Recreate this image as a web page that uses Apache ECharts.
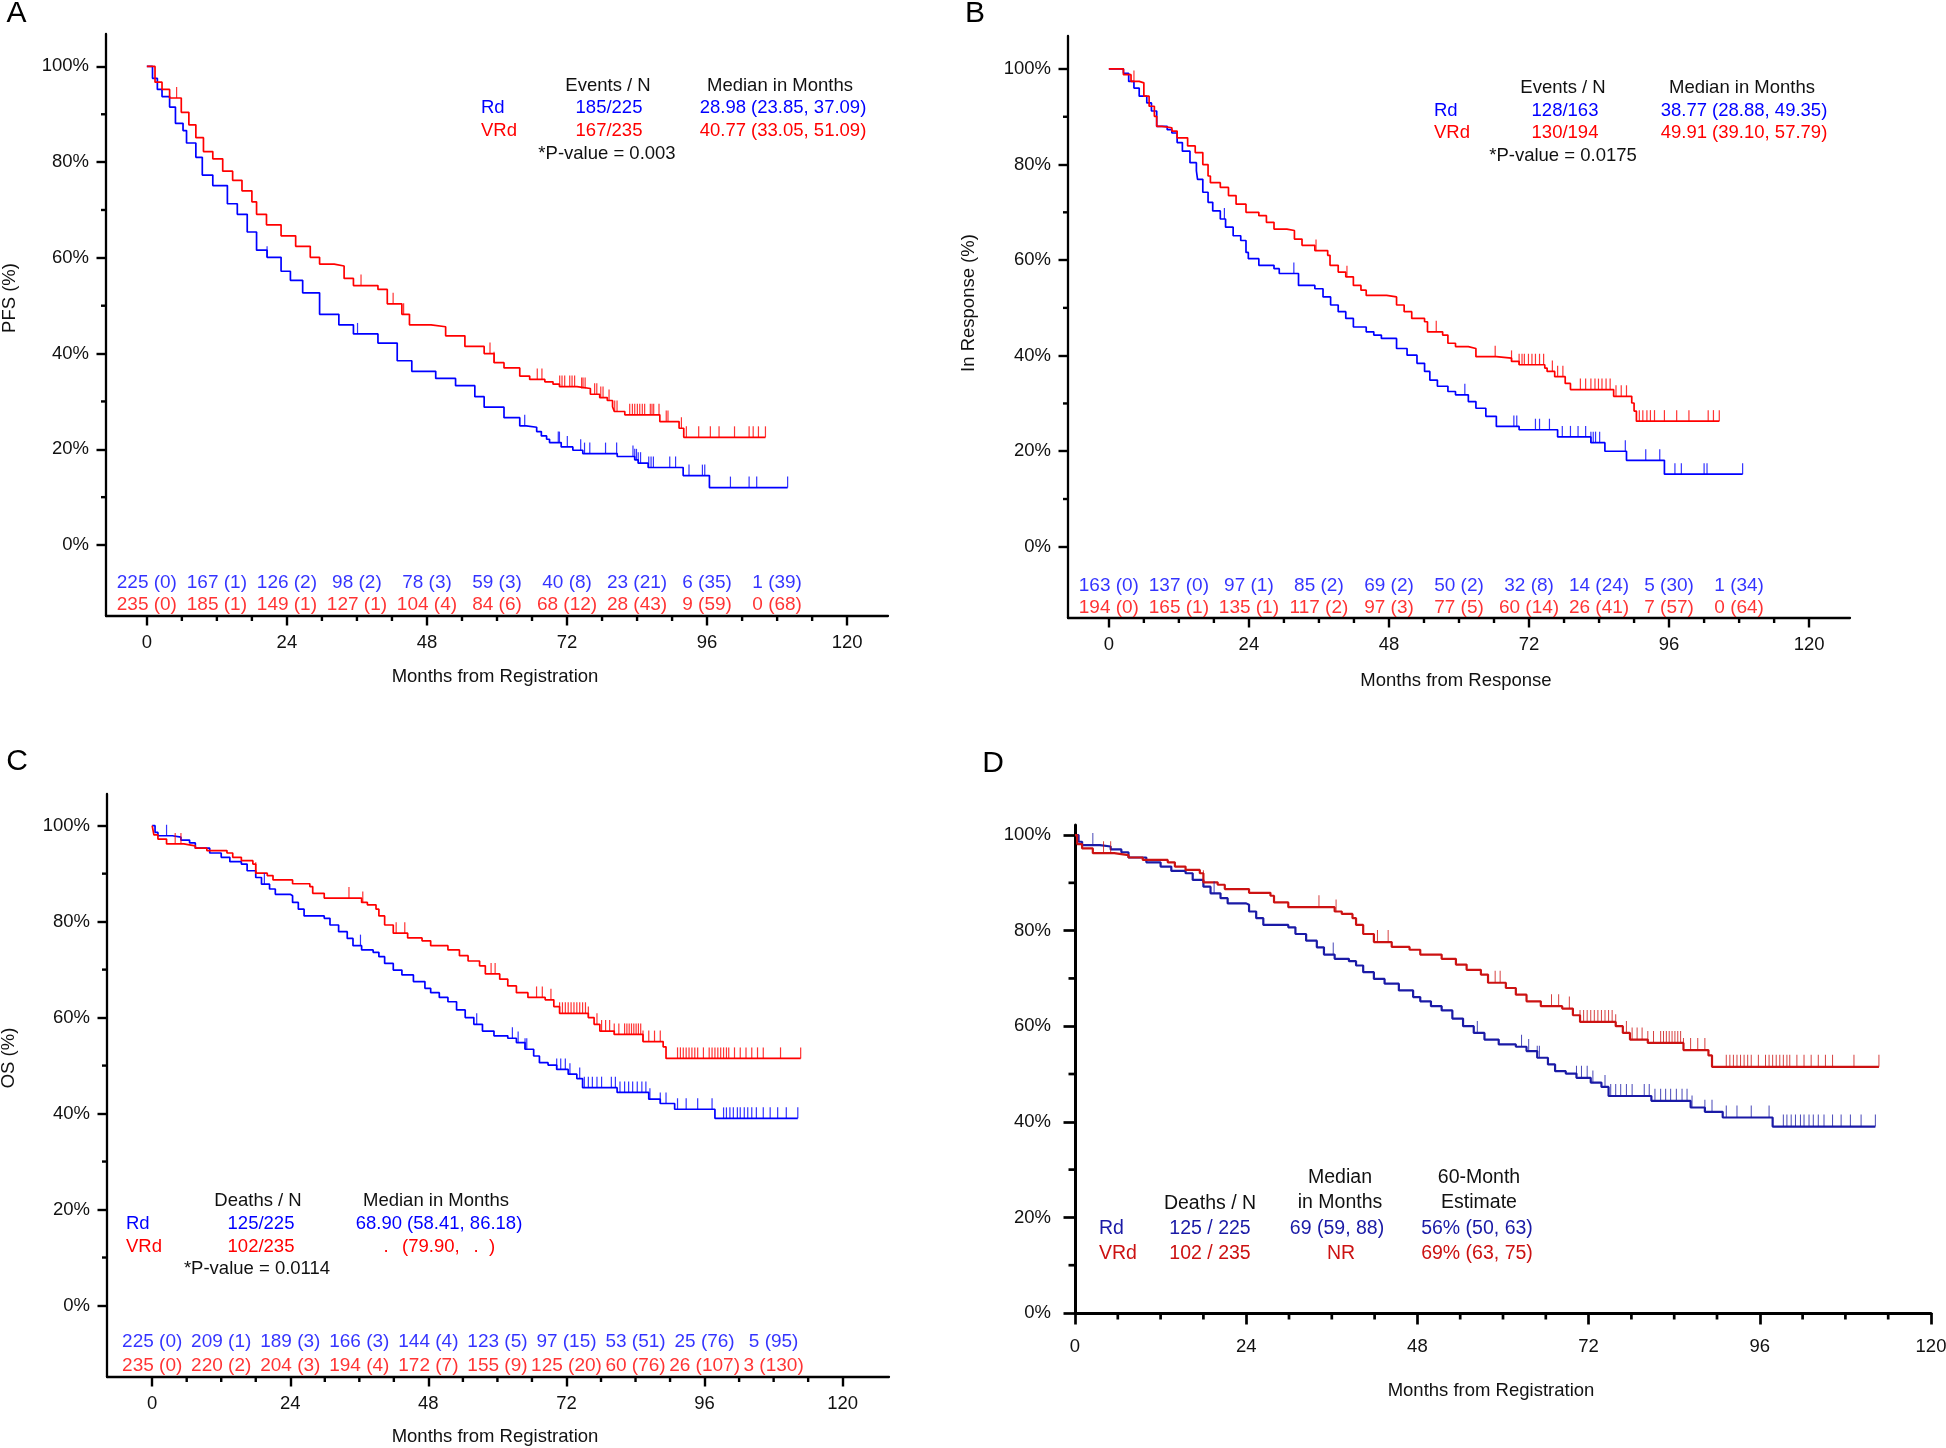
<!DOCTYPE html>
<html><head><meta charset="utf-8">
<script src="https://cdn.jsdelivr.net/npm/echarts@6/dist/echarts.min.js"></script>
<style>html,body{margin:0;padding:0;background:#fff}#c{width:1946px;height:1448px}</style>
</head><body><div id="c"></div>
<script>
// ---------------- DATA ----------------
const riskMonths = [0, 12, 24, 36, 48, 60, 72, 84, 96, 108];
const xTickLabels = [0, 24, 48, 72, 96, 120];
const yTickLabels = [0, 20, 40, 60, 80, 100];

// Panel A: PFS, months from registration  [month, survival %]
const pfsRd = [[0,100],[0.97,97.5],[1.8,95.2],[2.6,93.7],[3.9,91.5],[4.9,88.1],[6.2,86.6],[6.8,84.0],[8.4,81.0],[9.5,77.3],[11.3,75.1],[13.8,71.3],[15.5,69.1],[17.2,65.4],[18.8,61.6],[20.6,60.1],[23.0,57.2],[24.6,55.3],[26.7,52.7],[29.6,48.2],[32.9,46.0],[35.4,44.1],[39.6,42.2],[42.9,38.5],[45.4,36.3],[49.5,34.8],[52.9,33.3],[56.2,31.0],[57.8,28.8],[61.2,26.6],[63.9,24.9],[65.0,24.6],[66.8,23.7],[67.6,22.8],[68.5,22.1],[69.0,21.4],[71.0,20.5],[73.0,19.8],[74.7,19.1],[80.6,18.5],[83.6,17.8],[84.2,17.1],[85.9,16.2],[91.9,14.5],[96.4,12.0],[109.8,12.0]];
const pfsRdCensor = [20.6,36.1,64.75,70.5,70.7,72.05,74.34,75.0,75.9,78.6,80.5,83.3,83.6,83.9,84.2,84.6,86.0,86.4,86.8,89.6,90.6,92.9,95.2,95.6,100.0,103.2,104.5,109.8];
const pfsVRd = [[0,100],[1.4,96.7],[2.6,95.2],[3.9,93.4],[5.9,90.4],[7.2,87.8],[8.4,85.1],[9.7,82.2],[11.3,80.7],[13.0,78.1],[14.7,76.2],[16.3,74.0],[18.0,71.7],[18.8,69.1],[20.5,66.9],[23.0,64.6],[25.5,62.4],[28.0,60.1],[29.6,58.7],[32.1,58.3],[33.8,55.7],[35.4,54.2],[39.6,53.4],[41.2,50.4],[43.7,48.2],[45.0,46.0],[48.7,45.6],[51.2,43.7],[54.5,41.5],[57.8,40.0],[59.5,38.1],[61.2,37.0],[63.9,35.3],[65.6,34.6],[68.2,34.1],[69.6,33.6],[70.7,33.1],[73.7,32.7],[76.0,31.5],[77.6,30.8],[78.9,30.2],[79.8,28.9],[80.1,27.9],[81.9,27.2],[87.9,25.8],[91.2,24.4],[92.0,22.5],[106.0,22.5]];
const pfsVRdCensor = [5.1,36.7,42.2,44.0,58.8,59.5,66.9,67.7,70.74,71.14,71.6,72.46,72.86,73.3,74.5,74.74,75.1,76.73,77.1,77.78,78.17,79.2,80.17,80.57,82.74,83.2,83.6,84.05,84.46,84.9,85.3,86.27,86.56,86.85,87.76,89.0,89.3,91.6,92.45,94.56,96.56,98.05,100.7,103.2,103.9,104.8,106.0];
const pfsRiskRd = ['225 (0)','167 (1)','126 (2)','98 (2)','78 (3)','59 (3)','40 (8)','23 (21)','6 (35)','1 (39)'];
const pfsRiskVRd = ['235 (0)','185 (1)','149 (1)','127 (1)','104 (4)','84 (6)','68 (12)','28 (43)','9 (59)','0 (68)'];

// Panel B: duration of response
const durRd = [[0,100],[2.5,99.1],[3.4,97.4],[4.3,96],[5.2,94.3],[6.5,92.9],[7.3,91.2],[8.2,88],[10,87.3],[10.8,86.6],[11.7,84.6],[12.6,82.8],[13.9,80.4],[15,78.7],[15.2,76.9],[16.1,74.2],[17,72.1],[17.8,70.3],[19.1,68.6],[20,66.9],[21.3,65.1],[22.6,64.1],[23.5,61.6],[23.9,60.3],[25.7,58.9],[28.3,58.2],[29.2,57.2],[32.5,54.7],[35.3,54],[36.7,52.3],[38,50.6],[39.3,49.2],[40.6,47.8],[41.9,46],[44.1,45],[45.4,44.3],[46.7,43.6],[49.3,41.5],[51.1,40.1],[52.8,38.4],[54.1,36.7],[55,34.9],[56.3,33.6],[58.1,32.5],[59.4,31.8],[61.6,30.4],[62.9,29],[64.6,27.3],[66.4,25.2],[70.3,24.5],[76.9,23],[82.6,21.8],[85,20],[88.7,18.1],[95.2,15.2],[108.6,15.2]];
const durRdCensor = [19.8,31.7,61.0,69.4,69.9,73.1,73.8,75.5,77.7,79.1,80.4,81.7,82.6,83.0,83.4,84.1,88.5,92.0,94.4,97.0,98.1,102.0,102.5,108.6];
const durVRd = [[0,100],[2.5,98.8],[3.8,97.4],[5.2,97.1],[6,94.3],[6.9,92.2],[7.8,90.1],[8.2,88],[9.1,87.7],[10.8,87],[11.7,85.6],[13.5,83.9],[14.8,82.5],[16.1,80],[17,77.6],[17.4,76.2],[19.1,75.2],[20.5,73.5],[21.8,71.7],[23.5,70],[25.7,69.3],[27,67.9],[28.3,66.5],[30.5,66.2],[31.8,64.4],[33.1,63.1],[35.3,62],[37.5,61],[37.9,58.9],[39.3,57.5],[40.6,56.5],[41.9,54.7],[43.2,53.7],[44.1,52.6],[47.6,52.3],[49.3,50.6],[50.6,49.2],[51.9,47.8],[54.1,47.1],[54.6,45],[57.2,44.3],[58.1,42.6],[59.4,41.9],[61.6,41.5],[62.9,39.8],[66.4,39.5],[69,38.8],[70.3,38.1],[74.7,37.4],[75.1,36.7],[76.4,35.6],[78.2,34.2],[79.1,32.9],[86.5,31.5],[89.6,30.1],[90,28.4],[90.4,26.3],[104.6,26.3]];
const durVRdCensor = [4.3,35.5,40.8,56.1,66.2,69.0,70.3,70.8,71.2,71.9,72.5,73.1,73.8,74.5,76.0,76.9,77.8,80.8,81.7,82.6,83.3,83.9,84.5,85.2,85.9,86.9,87.8,88.7,90.9,91.5,92.2,92.8,93.5,95.2,97.3,99.4,102.7,103.6,104.6];
const durRiskRd = ['163 (0)','137 (0)','97 (1)','85 (2)','69 (2)','50 (2)','32 (8)','14 (24)','5 (30)','1 (34)'];
const durRiskVRd = ['194 (0)','165 (1)','135 (1)','117 (2)','97 (3)','77 (5)','60 (14)','26 (41)','7 (57)','0 (64)'];

// Panels C and D: overall survival
const osRd = [[0,100],[0.5,98.6],[1,97.9],[3.5,97.6],[5,97],[6.5,96.4],[7.5,95.3],[10,94.3],[12,93.4],[13.5,92.5],[15.5,92],[16.5,90.6],[18,89.2],[19,87.8],[20.4,86.8],[21.4,85.7],[24,85.4],[24.4,84],[25.4,82.6],[26.4,81.2],[29.9,80.7],[30.9,79.3],[32.4,77.9],[33.9,76.5],[34.9,75],[36.4,74.1],[38.4,73.6],[39.4,72.7],[40.4,71.3],[41.9,69.9],[43.4,68.9],[45.4,67.5],[47.4,66.1],[48.4,65.2],[49.9,64.2],[51.4,63.3],[52.9,61.6],[54.4,60],[55.9,58.6],[57.4,57.2],[59.4,56.2],[61.8,55.7],[63.3,54.8],[64.8,53.4],[66.3,52],[67.3,50.6],[68.8,50.1],[70.3,49.2],[72.3,48.2],[73.8,47.3],[74.8,45.4],[80.8,44.4],[86.3,43],[88.3,42.1],[90.8,40.9],[97.8,39.0],[112.2,39.0]];
const osRdCensor = [2.5,19.5,36.2,56.4,62.6,63.6,64.8,65.1,70.3,71.0,71.8,72.6,74.3,75.1,75.8,76.5,77.3,78.1,79.8,80.5,81.3,82.1,82.8,83.5,84.3,85.1,85.8,86.5,88.3,89.3,91.3,92.8,94.8,97.3,99.3,99.8,100.4,101.0,101.7,102.2,102.9,103.5,104.2,105.0,106.2,107.4,108.7,110.2,112.2];
const osVRd = [[0,100],[0.3,98.1],[1,97.2],[2.5,96.2],[5.5,95.8],[7.5,95.3],[9.5,94.8],[13,94.3],[14,93.4],[15.5,92.7],[17.5,92],[18,90.1],[20,89.6],[21,88.7],[24.4,87.9],[27.4,87.3],[27.9,85.9],[29.9,84.9],[36.4,84],[37.4,83.5],[38.9,82.6],[39.4,81.2],[40.4,79.3],[41.9,77.6],[44.4,76.6],[46.9,76],[48.4,75],[51.4,74.1],[53.4,72.9],[54.9,71.8],[56.9,70.8],[57.9,69.1],[60.4,68],[61.8,66.6],[63.3,65.2],[65.3,64.2],[68.3,63.7],[69.8,62.3],[70.8,60.9],[75.8,60],[76.8,58.6],[77.8,57.2],[80.3,56.5],[85.3,55],[88.8,53.9],[89.3,51.5],[112.7,51.5]];
const osVRdCensor = [4.0,5.0,18.0,34.2,36.6,42.4,43.9,58.9,59.6,66.8,67.8,69.3,70.8,71.3,71.8,72.3,72.8,73.3,73.8,74.3,74.8,75.3,75.8,77.3,78.1,78.8,79.5,80.3,81.1,82.1,82.5,82.9,83.3,83.7,84.1,84.5,84.9,85.3,86.3,87.3,88.3,91.3,91.8,92.3,92.8,93.3,93.8,94.3,94.8,95.8,96.8,97.3,97.8,98.3,98.8,99.3,99.8,100.2,101.2,102.2,103.2,104.2,105.2,106.2,109.2,112.7];
const osRiskRd = ['225 (0)','209 (1)','189 (3)','166 (3)','144 (4)','123 (5)','97 (15)','53 (51)','25 (76)','5 (95)'];
const osRiskVRd = ['235 (0)','220 (2)','204 (3)','194 (4)','172 (7)','155 (9)','125 (20)','60 (76)','26 (107)','3 (130)'];

// ---------------- BUILD ----------------
const FONT = '"Liberation Sans", Arial, Helvetica, sans-serif';
const BLUE = '#0000ff', RED = '#ff0000', DBLUE = '#1a1aa6', DRED = '#cc1212', INK = '#111';

function stepAt(curve, t) {
  let v = curve[0][1];
  for (const p of curve) { if (p[0] <= t + 1e-9) v = p[1]; else break; }
  return v;
}
const range = (a, b, s) => { const r = []; for (let v = a; v <= b + 1e-9; v += s) r.push(v); return r; };
const xMinor = range(0, 120, 6).filter(v => v % 24 !== 0);
const yMinor = [10, 30, 50, 70, 90];

const grids = [], xAxes = [], yAxes = [], series = [], graphics = [];

function minorTicks(xi, yi, c, dim, values, len, width) {
  series.push({ type: 'custom', xAxisIndex: xi, yAxisIndex: yi, clip: false, silent: true, animation: false, z: 6,
    data: values.map(v => dim === 'x' ? [v, c.yMin] : [c.xMin, v]),
    renderItem: function (params, api) {
      const p = api.coord([api.value(0), api.value(1)]);
      const shape = dim === 'x' ? { x1: p[0], y1: p[1], x2: p[0], y2: p[1] + len } : { x1: p[0] - len, y1: p[1], x2: p[0], y2: p[1] };
      return { type: 'line', shape: shape, style: { stroke: '#000', lineWidth: width } };
    } });
}

function panel(c) {
  const gi = grids.length;
  grids.push({ left: c.left, top: c.top, width: c.width, height: c.height, containLabel: false, outerBoundsMode: 'none' });
  const xi = xAxes.length, yi = yAxes.length;
  const lab = { fontSize: 18.5, fontFamily: FONT, color: INK };
  xAxes.push({ gridIndex: gi, type: 'value', position: 'bottom', min: c.xMin, max: c.xMax,
    axisLine: { show: true, onZero: false, lineStyle: { color: '#000', width: c.axisW } },
    axisTick: { show: true, customValues: xTickLabels, length: c.majLen, lineStyle: { color: '#000', width: c.tickW } },
    axisLabel: Object.assign({ show: true, customValues: xTickLabels, margin: c.xMargin }, lab),
    splitLine: { show: false } });
  yAxes.push({ gridIndex: gi, type: 'value', position: 'left', min: c.yMin, max: c.yMax,
    axisLine: { show: true, onZero: false, lineStyle: { color: '#000', width: c.axisW } },
    axisTick: { show: true, customValues: yTickLabels, length: c.majLen, lineStyle: { color: '#000', width: c.tickW } },
    axisLabel: Object.assign({ show: true, customValues: yTickLabels, margin: c.yMargin, formatter: '{value}%' }, lab),
    splitLine: { show: false } });
  minorTicks(xi, yi, c, 'x', xMinor, c.minLen, c.tickW);
  minorTicks(xi, yi, c, 'y', yMinor, c.minLen, c.tickW);
  c.curves.forEach(cv => {
    series.push({ type: 'line', xAxisIndex: xi, yAxisIndex: yi, data: cv.data, step: 'end', showSymbol: false, symbol: 'none',
      lineStyle: { color: cv.color, width: c.lineW }, z: 3, silent: true, animation: false });
    series.push({ type: 'scatter', xAxisIndex: xi, yAxisIndex: yi, data: cv.censor.map(t => [t, stepAt(cv.data, t)]),
      symbol: 'rect', symbolSize: [c.censW, c.censLen], symbolOffset: [0, -c.censLen / 2],
      itemStyle: { color: cv.color }, z: 4, silent: true, animation: false });
  });
  (c.risk || []).forEach(r => {
    series.push({ type: 'scatter', xAxisIndex: xi, yAxisIndex: yi, symbolSize: 1, itemStyle: { color: 'rgba(0,0,0,0)' },
      data: riskMonths.map((m, i) => ({ name: r.labels[i], value: [m, r.y] })), silent: true, animation: false,
      label: { show: true, position: 'inside', formatter: '{b}', color: r.color, fontSize: 19, fontFamily: FONT } });
  });
}

function txt(x, y, s, color, align, size, rot) {
  const a = align || 'center';
  graphics.push({ type: 'text', x: x, y: y, rotation: rot || 0, silent: true,
    style: { text: s, fill: color || INK, font: (size || 18.5) + 'px ' + FONT, textAlign: a, textVerticalAlign: 'middle', align: a, verticalAlign: 'middle' } });
}

const common = { width: 782, axisW: 2.3, tickW: 2.4, majLen: 9.5, minLen: 5,
  xMargin: 17, yMargin: 17, lineW: 1.7, censW: 1.2, censLen: 11 };

// A
panel(Object.assign({}, common, { left: 106, top: 34, height: 582, xMin: -7, xMax: 127, yMin: -14.83, yMax: 106.77,
  curves: [{ data: pfsRd, censor: pfsRdCensor, color: BLUE }, { data: pfsVRd, censor: pfsVRdCensor, color: RED }],
  risk: [{ labels: pfsRiskRd, y: -7.8, color: BLUE }, { labels: pfsRiskVRd, y: -12.5, color: RED }] }));
// B
panel(Object.assign({}, common, { left: 1068, top: 36, height: 582, xMin: -7, xMax: 127, yMin: -14.9, yMax: 106.9,
  curves: [{ data: durRd, censor: durRdCensor, color: BLUE }, { data: durVRd, censor: durVRdCensor, color: RED }],
  risk: [{ labels: durRiskRd, y: -8.1, color: BLUE }, { labels: durRiskVRd, y: -12.8, color: RED }] }));
// C
panel(Object.assign({}, common, { left: 107, top: 794, height: 583, xMin: -7.85, xMax: 128.05, yMin: -14.9, yMax: 106.6,
  curves: [{ data: osRd, censor: osRdCensor, color: BLUE }, { data: osVRd, censor: osVRdCensor, color: RED }],
  risk: [{ labels: osRiskRd, y: -7.6, color: BLUE }, { labels: osRiskVRd, y: -12.5, color: RED }] }));
// D
panel({ left: 1075, top: 825, width: 856, height: 488, xMin: 0, xMax: 120, yMin: 0, yMax: 102.1,
  axisW: 3, tickW: 2.7, majLen: 11.5, minLen: 6.5, xMargin: 24, yMargin: 24, lineW: 2.2, censW: 1, censLen: 12,
  curves: [{ data: osRd, censor: osRdCensor, color: DBLUE }, { data: osVRd, censor: osVRdCensor, color: DRED }] });

// Panel letters
txt(16.5, 14, 'A', '#000', 'center', 30);
txt(975, 14, 'B', '#000', 'center', 30);
txt(17, 762, 'C', '#000', 'center', 30);
txt(993, 764, 'D', '#000', 'center', 30);

// Axis titles
txt(10, 298, 'PFS (%)', INK, 'center', 18.5, Math.PI / 2);
txt(495, 677, 'Months from Registration', INK);
txt(969, 303, 'In Response (%)', INK, 'center', 18.5, Math.PI / 2);
txt(1456, 681, 'Months from Response', INK);
txt(9, 1058, 'OS (%)', INK, 'center', 18.5, Math.PI / 2);
txt(495, 1437, 'Months from Registration', INK);
txt(1491, 1391, 'Months from Registration', INK);

// Legend A
txt(608, 85.5, 'Events / N', INK); txt(780, 85.5, 'Median in Months', INK);
txt(481, 108, 'Rd', BLUE, 'left'); txt(609, 108, '185/225', BLUE); txt(783, 108, '28.98 (23.85, 37.09)', BLUE);
txt(481, 131.4, 'VRd', RED, 'left'); txt(609, 131.4, '167/235', RED); txt(783, 131.4, '40.77 (33.05, 51.09)', RED);
txt(607, 153.6, '*P-value = 0.003', INK);
// Legend B
txt(1563, 88, 'Events / N', INK); txt(1742, 88, 'Median in Months', INK);
txt(1434, 110.6, 'Rd', BLUE, 'left'); txt(1565, 110.6, '128/163', BLUE); txt(1744, 110.6, '38.77 (28.88, 49.35)', BLUE);
txt(1434, 133, 'VRd', RED, 'left'); txt(1565, 133, '130/194', RED); txt(1744, 133, '49.91 (39.10, 57.79)', RED);
txt(1563, 156, '*P-value = 0.0175', INK);
// Legend C
txt(258, 1200.5, 'Deaths / N', INK); txt(436, 1200.5, 'Median in Months', INK);
txt(126, 1224, 'Rd', BLUE, 'left'); txt(261, 1224, '125/225', BLUE); txt(439, 1224, '68.90 (58.41, 86.18)', BLUE);
txt(126, 1247, 'VRd', RED, 'left'); txt(261, 1247, '102/235', RED);
txt(386, 1247, '.', RED); txt(402, 1247, '(79.90,', RED, 'left'); txt(476, 1247, '.', RED); txt(492, 1247, ')', RED);
txt(257, 1269, '*P-value = 0.0114', INK);
// Legend D
const LD = 19.5;
txt(1340, 1178, 'Median', INK, 'center', LD); txt(1340, 1203, 'in Months', INK, 'center', LD);
txt(1479, 1178, '60-Month', INK, 'center', LD); txt(1479, 1203, 'Estimate', INK, 'center', LD);
txt(1210, 1204, 'Deaths / N', INK, 'center', LD);
txt(1099, 1229, 'Rd', DBLUE, 'left', LD); txt(1210, 1229, '125 / 225', DBLUE, 'center', LD);
txt(1337, 1229, '69 (59, 88)', DBLUE, 'center', LD); txt(1477, 1229, '56% (50, 63)', DBLUE, 'center', LD);
txt(1099, 1254, 'VRd', DRED, 'left', LD); txt(1210, 1254, '102 / 235', DRED, 'center', LD);
txt(1341, 1254, 'NR', DRED, 'center', LD); txt(1477, 1254, '69% (63, 75)', DRED, 'center', LD);

const chart = echarts.init(document.getElementById('c'), null, { renderer: 'canvas' });
chart.setOption({ animation: false, backgroundColor: '#fff', grid: grids, xAxis: xAxes, yAxis: yAxes, series: series, graphic: { elements: graphics } });
</script></body></html>
